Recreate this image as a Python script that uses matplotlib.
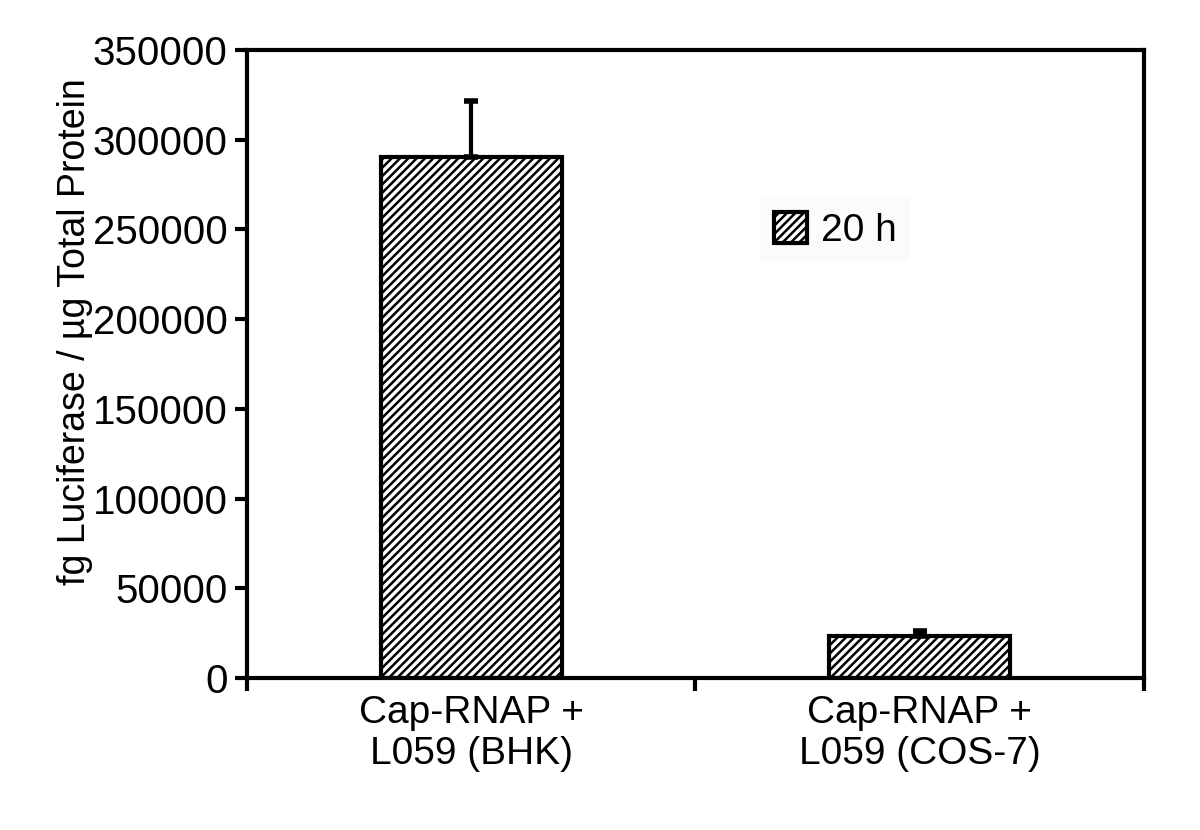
import numpy as np
import matplotlib.pyplot as plt

plt.rcParams['font.family'] = ['Liberation Sans', 'DejaVu Sans']
plt.rcParams['hatch.linewidth'] = 1.8

categories = ["Cap-RNAP +\nL059 (BHK)", "Cap-RNAP +\nL059 (COS-7)"]
values = [290500, 23500]
errors = [31000, 2500]
yticks = [0, 50000, 100000, 150000, 200000, 250000, 300000, 350000]

fig = plt.figure(figsize=(12, 8.3), dpi=100)
ax = fig.add_axes([0.206, 0.183, 0.747, 0.757])

x = np.arange(len(categories)) + 0.5
ax.bar(x, values, width=0.405, color='white', edgecolor='black',
       linewidth=3, hatch='////', label='20 h', zorder=2)
ax.errorbar(x, values, yerr=[np.zeros(len(errors)), errors], fmt='none',
            ecolor='black', elinewidth=3, capsize=5, capthick=4, zorder=3)

ax.set_xlim(0, 2)
ax.set_ylim(0, 350000)
ax.set_yticks(yticks)
ax.set_yticklabels([str(v) for v in yticks], fontsize=29)
ax.set_xticks(x)
ax.set_xticklabels(categories, fontsize=28)
ax.tick_params(axis='x', which='major', length=0, pad=12)
ax.set_xticks([0, 1, 2], minor=True)
ax.tick_params(axis='x', which='minor', length=9, width=3, direction='out')
ax.tick_params(axis='y', length=9, width=3, direction='out', pad=5)
for s in ax.spines.values():
    s.set_linewidth(3)

ax.set_ylabel("fg Luciferase / µg Total Protein", fontsize=27)
ax.yaxis.set_label_coords(-0.172, 0.552)

leg = ax.legend(loc='upper left', bbox_to_anchor=(0.551, 0.795), fontsize=28,
                frameon=True, fancybox=False, edgecolor='none',
                facecolor='#fbfbfb', framealpha=1, handlelength=0.85,
                handleheight=0.85, handletextpad=0.35, borderpad=0.35)

fig.savefig('out.png', dpi=100)
